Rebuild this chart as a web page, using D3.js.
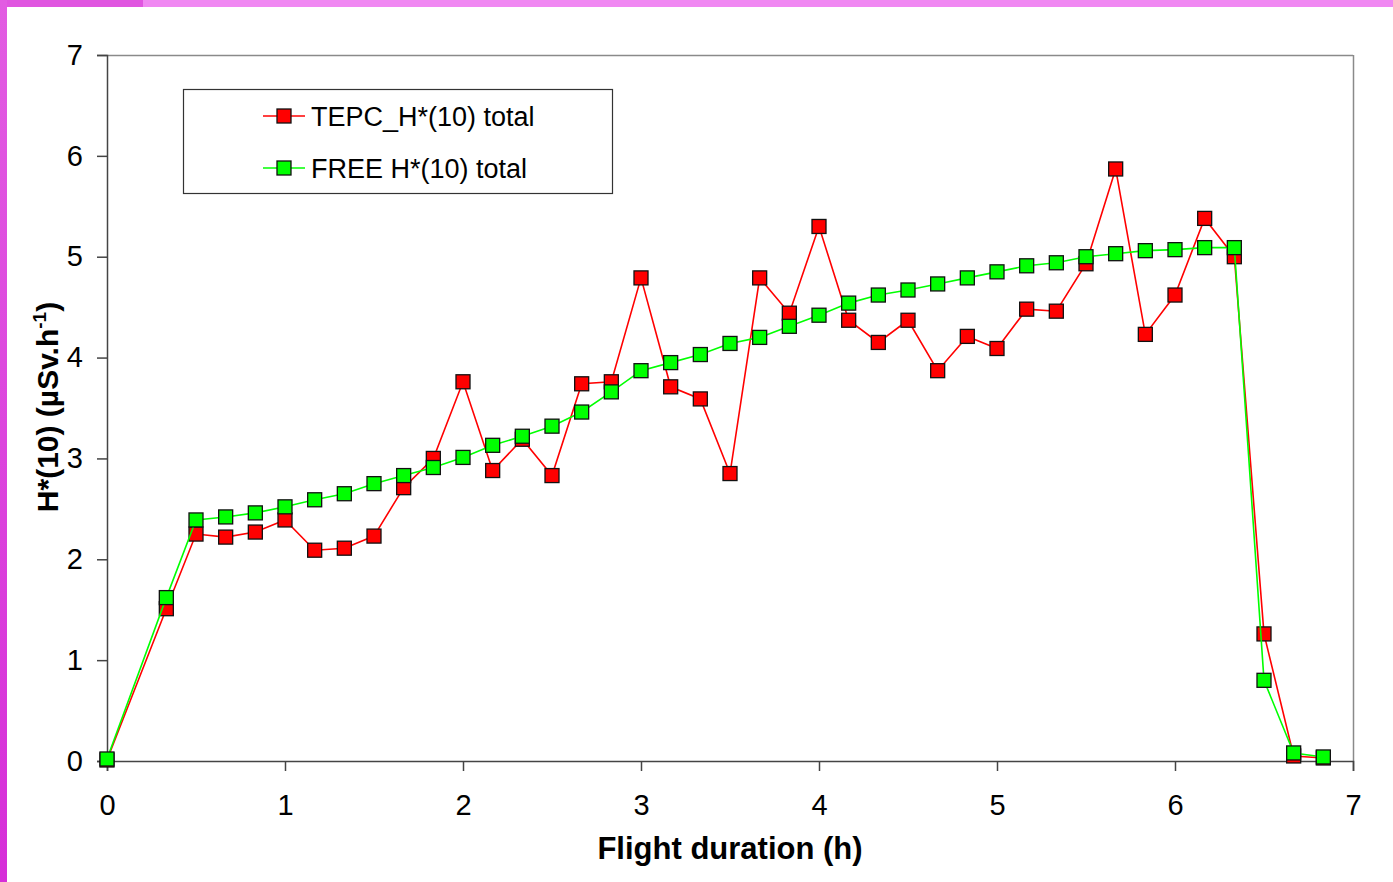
<!DOCTYPE html>
<html><head><meta charset="utf-8">
<script src="https://cdn.jsdelivr.net/npm/d3@7"></script>
<style>body{margin:0;background:#fff;}svg{display:block;}</style>
</head><body>
<svg id="chart" width="1393" height="882"></svg>
<script>
const hours = [0,1/3,0.5,2/3,5/6,1,7/6,4/3,1.5,5/3,11/6,2,13/6,7/3,2.5,8/3,17/6,3,19/6,10/3,3.5,11/3,23/6,4,25/6,13/3,4.5,14/3,29/6,5,31/6,16/3,5.5,17/3,35/6,6,37/6,19/3,6.5,20/3,41/6];
const tepc = [0.01,1.51,2.25,2.22,2.27,2.39,2.09,2.11,2.23,2.71,3.00,3.76,2.88,3.19,2.83,3.74,3.76,4.79,3.71,3.59,2.85,4.79,4.44,5.30,4.37,4.15,4.37,3.87,4.21,4.09,4.48,4.46,4.93,5.87,4.23,4.62,5.38,5.00,1.26,0.05,0.03];
const free = [0.02,1.62,2.39,2.42,2.46,2.52,2.59,2.65,2.75,2.83,2.91,3.01,3.13,3.22,3.32,3.46,3.66,3.87,3.95,4.03,4.14,4.20,4.31,4.42,4.54,4.62,4.67,4.73,4.79,4.85,4.91,4.94,5.00,5.03,5.06,5.07,5.09,5.09,0.80,0.08,0.04];
const xTicks = [0,1,2,3,4,5,6,7];
const yTicks = [0,1,2,3,4,5,6,7];
const seriesNames = ["TEPC_H*(10) total","FREE H*(10) total"];
const seriesColors = ["#ff0000","#00ff00"];

const svg = d3.select("#chart");
const W = 1393, H = 882;
const defs = svg.append("defs");
const lg = defs.append("linearGradient").attr("id","lstrip").attr("x1",0).attr("y1",0).attr("x2",0).attr("y2",1);
lg.append("stop").attr("offset","0%").attr("stop-color","#e25ce2");
lg.append("stop").attr("offset","100%").attr("stop-color","#d62ed8");
svg.append("rect").attr("x",0).attr("y",0).attr("width",W).attr("height",7).attr("fill","#f088f2");
svg.append("rect").attr("x",0).attr("y",0).attr("width",143).attr("height",7).attr("fill","#e055e0");
svg.append("rect").attr("x",0).attr("y",0).attr("width",7).attr("height",H).attr("fill","url(#lstrip)");

const m = {left:107, right:1353, top:55, bottom:761};
const x = d3.scaleLinear().domain([0,7]).range([m.left,m.right]);
const y = d3.scaleLinear().domain([0,7]).range([m.bottom,m.top]);

svg.append("line").attr("x1",m.left).attr("x2",m.right).attr("y1",m.top+0.5).attr("y2",m.top+0.5).attr("stroke","#8a8a8a").attr("stroke-width",1.5);
svg.append("line").attr("x1",m.right+0.5).attr("x2",m.right+0.5).attr("y1",m.top).attr("y2",m.bottom).attr("stroke","#8a8a8a").attr("stroke-width",1.5);

const font = "'Liberation Sans', Arial, sans-serif";
const yAxis = d3.axisLeft(y).tickValues(yTicks).tickSize(10).tickPadding(14).tickFormat(d3.format("d"));
const gy = svg.append("g").attr("transform",`translate(${m.left},0)`).call(yAxis);
const xAxis = d3.axisBottom(x).tickValues(xTicks).tickSize(10).tickPadding(14).tickFormat(d3.format("d"));
const gx = svg.append("g").attr("transform",`translate(0,${m.bottom})`).call(xAxis);
[gx,gy].forEach(g=>{
  g.selectAll("path.domain").attr("stroke","#444").attr("stroke-width",1.5);
  g.selectAll(".tick line").attr("stroke","#444").attr("stroke-width",1.5);
  g.selectAll(".tick text").attr("font-family",font).attr("font-size",29).attr("fill","#000");
});
gx.selectAll(".tick text").attr("dy","1.04em");

svg.append("text").attr("x",730).attr("y",859).attr("text-anchor","middle")
  .attr("font-family",font).attr("font-weight","bold").attr("font-size",31).text("Flight duration (h)");
const yt = svg.append("text").attr("transform","translate(58,407) rotate(-90)").attr("text-anchor","middle")
  .attr("font-family",font).attr("font-weight","bold").attr("font-size",30);
yt.append("tspan").text("H*(10) (µSv.h");
yt.append("tspan").attr("font-size",19).attr("dy",-12).text("-1");
yt.append("tspan").attr("dy",12).text(")");

const data = [tepc, free];
const line = d3.line().x(d=>x(d[0])).y(d=>y(d[1]));
const ms = 14;
data.forEach((vals,i)=>{
  const pts = hours.map((h,j)=>[h, vals[j]]);
  const g = svg.append("g");
  g.append("path").datum(pts).attr("d",line).attr("fill","none").attr("stroke",seriesColors[i]).attr("stroke-width",1.6);
  g.selectAll("rect").data(pts).join("rect")
    .attr("x",d=>x(d[0])-ms/2).attr("y",d=>y(d[1])-ms/2).attr("width",ms).attr("height",ms)
    .attr("fill",seriesColors[i]).attr("stroke","#111").attr("stroke-width",1.3);
});

const lgG = svg.append("g");
lgG.append("rect").attr("x",183.5).attr("y",89.5).attr("width",429).attr("height",104).attr("fill","#fff").attr("stroke","#333").attr("stroke-width",1.2);
seriesNames.forEach((n,i)=>{
  const cy = 116 + i*52;
  lgG.append("line").attr("x1",263).attr("x2",305).attr("y1",cy).attr("y2",cy).attr("stroke",seriesColors[i]).attr("stroke-width",1.6);
  lgG.append("rect").attr("x",284-ms/2).attr("y",cy-ms/2).attr("width",ms).attr("height",ms).attr("fill",seriesColors[i]).attr("stroke","#111").attr("stroke-width",1.3);
  lgG.append("text").attr("x",311).attr("y",cy+9.5).attr("font-family",font).attr("font-size",27).attr("fill","#000").text(n);
});
</script>
</body></html>
